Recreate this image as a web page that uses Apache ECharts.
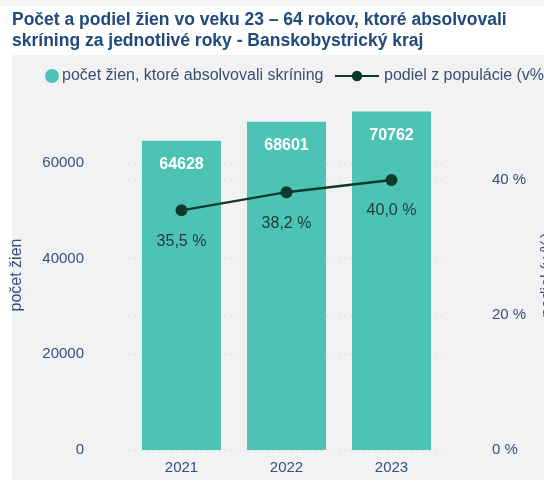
<!DOCTYPE html>
<html>
<head>
<meta charset="utf-8">
<script src="https://cdn.jsdelivr.net/npm/echarts@6/dist/echarts.min.js"></script>
<style>
  html, body { margin: 0; padding: 0; background: #fff; }
  #chart { width: 544px; height: 485px; }
</style>
</head>
<body>
<div id="chart"></div>
<script>
(function() {
  var years = ['2021', '2022', '2023'];
  var counts = [64628, 68601, 70762];
  var shares = [35.5, 38.2, 40.0];
  var barName = 'počet žien, ktoré absolvovali skríning';
  var lineName = 'podiel z populácie (v%)';

  var teal = '#4dc3b4';
  var dark = '#0d3b2b';
  var axisInk = '#35507e';
  var font = 'Liberation Sans';

  function fmtShare(v) {
    return v.toFixed(1).replace('.', ',') + ' %';
  }

  var chart = echarts.init(document.getElementById('chart'), null, { renderer: 'canvas' });

  chart.setOption({
    animation: false,
    backgroundColor: '#fff',
    textStyle: { fontFamily: font },
    graphic: [
      { type: 'rect', z: -10, silent: true, shape: { x: 12, y: 55, width: 532, height: 425 }, style: { fill: '#f2f2f2' } },
      { type: 'rect', z: -10, silent: true, shape: { x: 0, y: 0, width: 544, height: 6 }, style: { fill: '#f4f4f4' } }
    ],
    title: {
      text: 'Počet a podiel žien vo veku 23 – 64 rokov, ktoré absolvovali\nskríning za jednotlivé roky - Banskobystrický kraj',
      left: 12, top: 10, padding: 0,
      textStyle: { color: '#204a7c', fontSize: 17.5, fontWeight: 'bold', lineHeight: 21, fontFamily: font }
    },
    legend: [
      {
        left: 45, top: 68, padding: 0,
        itemWidth: 14, itemHeight: 14, itemGap: 4,
        textStyle: { color: '#3b4f72', fontSize: 16, fontFamily: font, padding: [0, 0, 0, -2] },
        data: [{ name: barName, icon: 'circle', itemStyle: { color: teal } }]
      },
      {
        left: 334, top: 68, padding: 0,
        itemWidth: 44, itemHeight: 13,
        textStyle: { color: '#3b4f72', fontSize: 16, fontFamily: font },
        data: [{ name: lineName }]
      }
    ],
    grid: { left: 129, right: 100, top: 100, bottom: 35, outerBoundsMode: 'none' },
    xAxis: {
      type: 'category',
      data: years,
      axisLine: { show: false },
      axisTick: { show: false },
      axisLabel: { color: axisInk, fontSize: 15, margin: 10 }
    },
    yAxis: [
      {
        type: 'value', min: 0, max: 73170, interval: 20000,
        name: 'počet žien', nameLocation: 'middle', nameGap: 104, nameRotate: 90,
        nameTextStyle: { color: axisInk, fontSize: 16 },
        axisLabel: { color: axisInk, fontSize: 15, margin: 45, showMaxLabel: false, formatter: function(v) { return String(v); } },
        axisLine: { show: false }, axisTick: { show: false },
        splitLine: { showMaxLine: false, lineStyle: { color: '#c8c8c8', type: [1, 5] } }
      },
      {
        type: 'value', min: 0, max: 51.85, interval: 20,
        name: 'podiel (v %)', nameLocation: 'middle', nameGap: 96, nameRotate: 90,
        nameTextStyle: { color: axisInk, fontSize: 16 },
        axisLabel: { color: axisInk, fontSize: 15, margin: 48, showMaxLabel: false, formatter: '{value} %' },
        axisLine: { show: false }, axisTick: { show: false },
        splitLine: { showMaxLine: false, lineStyle: { color: '#c8c8c8', type: [1, 5] } }
      }
    ],
    series: [
      {
        name: barName,
        type: 'bar', data: counts, barWidth: 79,
        itemStyle: { color: teal },
        label: { show: true, position: 'insideTop', distance: 16, color: '#fff', fontSize: 16, fontWeight: 'bold' }
      },
      {
        name: lineName,
        type: 'line', yAxisIndex: 1, data: shares,
        symbol: 'circle', symbolSize: 12,
        lineStyle: { color: dark, width: 2.5 },
        itemStyle: { color: dark },
        label: {
          show: true, position: 'bottom', distance: 17, color: '#1e3a33', fontSize: 16,
          formatter: function(p) { return fmtShare(p.value); }
        }
      }
    ]
  });
})();
</script>
</body>
</html>
